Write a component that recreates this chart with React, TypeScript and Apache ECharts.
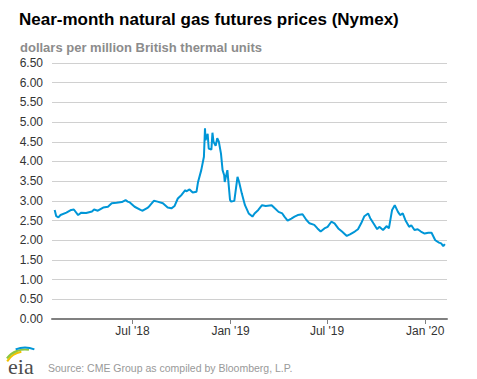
import React, { useEffect, useRef } from "react";
import * as echarts from "echarts";

const dates: string[] = [
  "2018-02-05","2018-02-08","2018-02-12","2018-02-16","2018-02-27","2018-03-08","2018-03-13","2018-03-21","2018-03-27","2018-04-05",
  "2018-04-16","2018-04-20","2018-04-27","2018-05-07","2018-05-16","2018-05-23","2018-06-01","2018-06-11","2018-06-18","2018-06-22",
  "2018-06-26","2018-07-05","2018-07-16","2018-07-20","2018-07-30","2018-08-02","2018-08-10","2018-08-17","2018-08-27","2018-09-05",
  "2018-09-12","2018-09-18","2018-09-24","2018-10-01","2018-10-08","2018-10-10","2018-10-16","2018-10-22","2018-10-29","2018-11-01",
  "2018-11-07","2018-11-12","2018-11-14","2018-11-15","2018-11-19","2018-11-21","2018-11-26","2018-11-28","2018-11-30","2018-12-04",
  "2018-12-07","2018-12-10","2018-12-14","2018-12-17","2018-12-20","2018-12-21","2018-12-26","2018-12-31","2019-01-02","2019-01-08",
  "2019-01-14","2019-01-17","2019-01-22","2019-01-28","2019-02-04","2019-02-11","2019-02-15","2019-02-22","2019-03-01","2019-03-08",
  "2019-03-19","2019-03-25","2019-04-01","2019-04-08","2019-04-12","2019-04-18","2019-04-25","2019-05-01","2019-05-07","2019-05-16",
  "2019-05-23","2019-05-29","2019-06-07","2019-06-13","2019-06-19","2019-06-26","2019-07-02","2019-07-09","2019-07-15","2019-07-22",
  "2019-07-29","2019-08-07","2019-08-13","2019-08-22","2019-08-28","2019-09-03","2019-09-09","2019-09-16","2019-09-20","2019-09-26",
  "2019-10-03","2019-10-07","2019-10-14","2019-10-21","2019-10-25","2019-10-31","2019-11-05","2019-11-11","2019-11-15","2019-11-20",
  "2019-11-25","2019-12-02","2019-12-06","2019-12-12","2019-12-18","2019-12-24","2019-12-31","2020-01-07","2020-01-13","2020-01-20",
  "2020-01-27","2020-01-31","2020-02-04","2020-02-07"
];

const prices: number[] = [
  2.77,2.61,2.58,2.64,2.70,2.77,2.78,2.64,2.70,2.69,
  2.73,2.78,2.75,2.83,2.85,2.94,2.95,2.97,3.02,2.98,
  2.96,2.85,2.77,2.75,2.83,2.87,3.00,2.98,2.94,2.83,
  2.81,2.87,3.06,3.15,3.27,3.24,3.29,3.21,3.23,3.48,
  3.78,4.12,4.84,4.54,4.70,4.33,4.30,4.73,4.50,4.40,
  4.59,4.50,4.20,3.78,3.65,3.48,3.78,3.02,2.98,3.00,
  3.61,3.48,3.19,2.89,2.68,2.60,2.68,2.77,2.89,2.87,
  2.89,2.81,2.72,2.68,2.60,2.50,2.55,2.60,2.64,2.66,
  2.52,2.43,2.39,2.30,2.22,2.30,2.34,2.47,2.43,2.30,
  2.22,2.11,2.15,2.22,2.28,2.43,2.61,2.68,2.56,2.43,
  2.28,2.34,2.26,2.36,2.30,2.77,2.89,2.72,2.64,2.68,
  2.51,2.34,2.38,2.26,2.28,2.22,2.17,2.19,2.19,2.00,
  1.94,1.92,1.85,1.90
];

const tickDates: string[] = ["2018-07-01", "2019-01-01", "2019-07-01", "2020-01-01"];
const tickLabels: string[] = ["Jul '18", "Jan '19", "Jul '19", "Jan '20"];
const axisStart = "2018-01-31";
const axisEnd = "2020-02-11";

const ts = (s: string) => {
  const [y, m, d] = s.split("-").map(Number);
  return Date.UTC(y, m - 1, d);
};

const deg = (a: number) => (a * Math.PI) / 180;

export default function App() {
  const ref = useRef<HTMLDivElement>(null);
  useEffect(() => {
    if (!ref.current) return;
    const chart = echarts.init(ref.current, undefined, { renderer: "svg" });
    const tickTs = tickDates.map(ts);
    const font = "Arial, 'Liberation Sans', sans-serif";
    chart.setOption({
      animation: false,
      backgroundColor: "#ffffff",
      grid: { left: 52, right: 30, top: 63, bottom: 60, containLabel: false },
      xAxis: {
        type: "value",
        min: ts(axisStart),
        max: ts(axisEnd),
        axisLine: { show: true, lineStyle: { color: "#808080", width: 2 } },
        axisTick: {
          show: true,
          customValues: tickTs,
          length: 5,
          lineStyle: { color: "#808080", width: 1 },
        },
        axisLabel: {
          customValues: tickTs,
          formatter: (v: number) => {
            const i = tickTs.indexOf(v);
            return i >= 0 ? tickLabels[i] : "";
          },
          color: "#333333",
          fontSize: 12,
          fontFamily: font,
          margin: 6,
        },
        splitLine: { show: false },
      },
      yAxis: {
        type: "value",
        min: 0,
        max: 6.5,
        interval: 0.5,
        axisLine: { show: false },
        axisTick: { show: false },
        axisLabel: {
          formatter: (v: number) => v.toFixed(2),
          color: "#333333",
          fontSize: 12,
          fontFamily: font,
          margin: 9,
        },
        splitLine: { show: true, lineStyle: { color: "#d0d0d0", width: 1 } },
      },
      series: [
        {
          type: "line",
          data: dates.map((d, i) => [ts(d), prices[i]]),
          showSymbol: false,
          symbol: "none",
          lineStyle: { color: "#0096d7", width: 2 },
          z: 3,
        },
      ],
      graphic: [
        {
          type: "text",
          left: 19,
          top: 11,
          style: {
            text: "Near-month natural gas futures prices (Nymex)",
            font: `bold 17px ${font}`,
            fill: "#000000",
          },
        },
        {
          type: "text",
          left: 20,
          top: 41,
          style: {
            text: "dollars per million British thermal units",
            font: `bold 13px ${font}`,
            fill: "#8c8c8c",
          },
        },
        {
          type: "text",
          left: 48,
          top: 362,
          style: {
            text: "Source: CME Group as compiled by Bloomberg, L.P.",
            font: `10.5px ${font}`,
            fill: "#999999",
          },
        },
        {
          type: "text",
          left: 8,
          top: 355,
          style: {
            text: "eia",
            font: "22px 'Liberation Serif', 'DejaVu Serif', serif",
            fill: "#4d4d4d",
          },
        },
        {
          type: "arc",
          shape: { cx: 25, cy: 372.5, r: 21, startAngle: deg(-148), endAngle: deg(-100) },
          style: { stroke: "#f2c200", lineWidth: 2, fill: "none" },
        },
        {
          type: "arc",
          shape: { cx: 25, cy: 372.5, r: 23, startAngle: deg(-142), endAngle: deg(-80) },
          style: { stroke: "#8dc63f", lineWidth: 2, fill: "none" },
        },
        {
          type: "arc",
          shape: { cx: 25, cy: 372.5, r: 25, startAngle: deg(-112), endAngle: deg(-68) },
          style: { stroke: "#0096d7", lineWidth: 2, fill: "none" },
        },
      ],
    });
    return () => chart.dispose();
  }, []);
  return (
    <div
      ref={ref}
      style={{ position: "fixed", left: 0, top: 0, width: 477, height: 379 }}
    />
  );
}
